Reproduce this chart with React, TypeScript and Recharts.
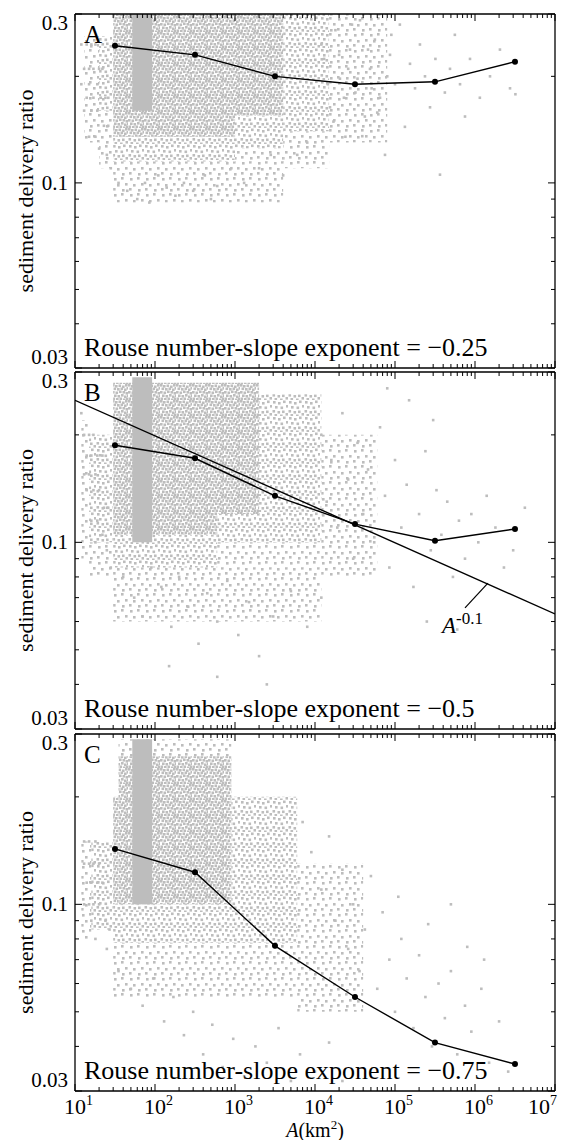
import React from "react";
import { ScatterChart, Scatter, XAxis, YAxis, ReferenceArea, ReferenceLine } from "recharts";

const FONT = "Liberation Serif, Times New Roman, serif";
const GRAY = "#bdbdbd";
const PAGE_H = 1140;

// axis ticks
const decades = [10, 100, 1000, 10000, 100000, 1000000, 10000000];
const decadeExp = ["1", "2", "3", "4", "5", "6", "7"];
const minorMult = [2, 3, 4, 5, 6, 7, 8, 9];
const yTicks = [0.03, 0.04, 0.05, 0.06, 0.07, 0.08, 0.09, 0.1, 0.2, 0.3];
const yMajor = [0.03, 0.1, 0.3];
const yLabels = ["0.03", "0.1", "0.3"];

// binned means (black line), x = bin centre area km2
const binAreas = [31.6, 316, 3160, 31600, 316000, 3160000];
const lineA = [0.244, 0.23, 0.2, 0.19, 0.193, 0.22];
const lineB = [0.187, 0.172, 0.135, 0.1125, 0.101, 0.109];
const lineC = [0.143, 0.123, 0.0765, 0.055, 0.041, 0.0357];

// A^-0.1 reference line in panel B
const powerLaw: [number, number][] = [[10, 0.25], [1e7, 0.063]];
const powerLeader: [number, number][] = [[7.5e5, 0.0655], [1.45e6, 0.0769]];

// point cloud: saturated column, dense / medium / light areas [a1, a2, s1, s2]
const solidA = [[52, 92, 0.16, 0.3]];
const denseA = [[30, 4000, 0.155, 0.3], [30, 1000, 0.135, 0.155]];
const mediumA = [[4000, 15000, 0.14, 0.3], [20, 30, 0.16, 0.26], [30, 1000, 0.115, 0.135], [1000, 4000, 0.125, 0.155]];
const lightA = [[13, 20, 0.13, 0.26], [20, 30, 0.11, 0.16], [30, 4000, 0.088, 0.115], [1000, 4000, 0.115, 0.125],
  [4000, 15000, 0.11, 0.14], [15000, 80000, 0.13, 0.3]];

const solidB = [[52, 92, 0.1, 0.29]];
const denseB = [[30, 2000, 0.12, 0.28], [30, 600, 0.105, 0.12]];
const mediumB = [[2000, 12000, 0.1, 0.26], [600, 2000, 0.1, 0.12], [30, 600, 0.085, 0.105], [15, 30, 0.1, 0.2]];
const lightB = [[12, 15, 0.09, 0.22], [15, 30, 0.08, 0.1], [30, 12000, 0.06, 0.085], [600, 12000, 0.085, 0.1],
  [12000, 60000, 0.08, 0.2]];

const solidC = [[52, 92, 0.1, 0.29]];
const denseC = [[35, 900, 0.1, 0.26], [30, 35, 0.1, 0.2]];
const mediumC = [[900, 6000, 0.078, 0.2], [30, 900, 0.078, 0.1], [16, 30, 0.085, 0.15]];
const lightC = [[12, 16, 0.08, 0.15], [30, 6000, 0.055, 0.078], [6000, 40000, 0.05, 0.13], [35, 900, 0.26, 0.29]];

// scattered individual basins [A km2, ratio]
const sparseA: [number, number][] = [
  [1.3e4, 0.224], [1.54e4, 0.1635], [1.8e4, 0.27], [2.05e4, 0.197], [2.4e4, 0.135], [2.74e4, 0.238],
  [3.2e4, 0.18], [3.65e4, 0.288], [4.2e4, 0.154], [4.87e4, 0.21], [5.6e4, 0.254], [6.5e4, 0.174],
  [7.5e4, 0.12], [8.66e4, 0.23], [1e5, 0.19], [1.15e5, 0.28], [1.33e5, 0.144], [1.54e5, 0.217],
  [1.78e5, 0.185], [2.05e5, 0.246], [2.37e5, 0.2], [2.74e5, 0.1635], [3.2e5, 0.224], [3.65e5, 0.1055],
  [4.2e5, 0.18], [4.87e5, 0.21], [5.6e5, 0.262], [6.5e5, 0.19], [7.5e5, 0.154], [8.66e5, 0.224],
  [1.15e6, 0.174], [1.54e6, 0.2], [2.05e6, 0.238], [2.74e6, 0.185], [3.2e6, 0.178],
  [1.2e4, 0.246], [1.45e4, 0.19], [1.7e4, 0.149], [2e4, 0.23], [2.3e4, 0.174], [2.6e4, 0.21],
  [2.9e4, 0.28], [3.4e4, 0.197], [3.9e4, 0.1355], [4.6e4, 0.238], [5.1e4, 0.185], [6e4, 0.158],
  [8e4, 0.2], [9e4, 0.262],
  [12, 0.246], [14, 0.246], [16, 0.246], [18, 0.246], [13, 0.21], [15, 0.21], [17, 0.21], [20, 0.21],
  [22, 0.21], [12, 0.19], [15, 0.19], [19, 0.19], [14, 0.174], [17, 0.174], [21, 0.174], [24, 0.174],
  [13, 0.16], [16, 0.16], [19, 0.16], [23, 0.145], [26, 0.145], [15, 0.135], [18, 0.135], [25, 0.12],
  [28, 0.11], [20, 0.125],
  [35, 0.1], [45, 0.095], [60, 0.09], [75, 0.1], [85, 0.088], [110, 0.105], [140, 0.097], [180, 0.092],
  [230, 0.1], [300, 0.095], [420, 0.105], [600, 0.098], [900, 0.11], [1300, 0.1], [2000, 0.11],
  [2800, 0.12], [4000, 0.105], [6000, 0.12], [8000, 0.13], [500, 0.09],
];

const sparseB: [number, number][] = [
  [1.2e4, 0.2], [1.4e4, 0.13], [1.6e4, 0.17], [1.9e4, 0.11], [2.2e4, 0.23], [2.6e4, 0.15], [3e4, 0.09],
  [3.4e4, 0.19], [4e4, 0.12], [4.6e4, 0.16], [5.5e4, 0.1], [6.5e4, 0.21], [7.5e4, 0.135], [8.5e4, 0.085],
  [1e5, 0.17], [1.2e5, 0.11], [1.4e5, 0.145], [1.7e5, 0.075], [2e5, 0.12], [2.4e5, 0.18], [2.8e5, 0.095],
  [3.3e5, 0.14], [3.8e5, 0.105], [4.5e5, 0.13], [5.3e5, 0.08], [6.3e5, 0.115], [7.5e5, 0.09], [9e5, 0.12],
  [1.1e6, 0.1], [1.4e6, 0.135], [1.8e6, 0.11], [2.3e6, 0.085], [3e6, 0.095], [4.2e6, 0.125], [2.5e5, 0.06],
  [6e5, 0.057], [1.5e5, 0.25], [3e5, 0.22], [8e4, 0.27],
  [40, 0.08], [55, 0.07], [70, 0.062], [90, 0.085], [120, 0.075], [160, 0.058], [200, 0.08], [260, 0.066],
  [350, 0.052], [450, 0.072], [600, 0.06], [800, 0.078], [1100, 0.055], [1500, 0.068], [2000, 0.048],
  [3000, 0.062], [5000, 0.073], [8000, 0.058], [1.2e4, 0.07], [600, 0.042], [150, 0.045], [2500, 0.04],
  [13, 0.2], [15, 0.2], [17, 0.2], [14, 0.175], [16, 0.175], [19, 0.175], [22, 0.175], [13, 0.155],
  [15, 0.155], [18, 0.155], [14, 0.14], [17, 0.14], [20, 0.14], [23, 0.125], [26, 0.125], [16, 0.115],
  [19, 0.115], [22, 0.105], [25, 0.095], [18, 0.1], [28, 0.085], [12, 0.23],
];

const sparseC: [number, number][] = [
  [7000, 0.17], [9000, 0.14], [1.2e4, 0.11], [1.5e4, 0.155], [1.8e4, 0.09], [2.2e4, 0.125], [2.6e4, 0.075],
  [3e4, 0.1], [3.6e4, 0.065], [4.2e4, 0.085], [5e4, 0.12], [6e4, 0.058], [7e4, 0.095], [8.5e4, 0.07],
  [1e5, 0.05], [1.2e5, 0.08], [1.4e5, 0.062], [1.7e5, 0.045], [2e5, 0.072], [2.4e5, 0.055], [2.9e5, 0.04],
  [3.5e5, 0.06], [4.2e5, 0.048], [5e5, 0.065], [6e5, 0.038], [7.5e5, 0.052], [9e5, 0.044], [1.2e6, 0.058],
  [1.5e6, 0.036], [2e6, 0.047], [2.6e6, 0.034], [1.1e5, 0.105], [2.6e5, 0.088], [5e5, 0.1], [8e5, 0.076],
  [1.3e6, 0.07],
  [35, 0.065], [50, 0.058], [70, 0.052], [95, 0.062], [130, 0.047], [170, 0.055], [230, 0.043], [300, 0.05],
  [400, 0.038], [520, 0.046], [700, 0.035], [950, 0.042], [1300, 0.033], [1800, 0.04], [2500, 0.036],
  [3500, 0.045], [5000, 0.032], [6500, 0.038], [1e4, 0.034], [1.5e4, 0.041], [2.2e4, 0.032],
  [13, 0.15], [15, 0.15], [18, 0.15], [13, 0.13], [15, 0.13], [17, 0.13], [20, 0.13], [14, 0.115],
  [16, 0.115], [19, 0.115], [22, 0.115], [13, 0.1], [15, 0.1], [17, 0.1], [20, 0.1], [24, 0.09],
  [27, 0.085], [16, 0.09], [18, 0.08], [25, 0.075],
];

const xTicks = decades.concat(decades.slice(0, -1).flatMap((d) => minorMult.map((m) => d * m)));

const axisLine = { stroke: "#000", strokeWidth: 1.3 };

const xTick = (side: "top" | "bottom", labels: boolean) => (p: any) => {
  const { x, y, payload } = p;
  const i = decades.indexOf(payload.value);
  const len = i >= 0 ? 7 : 4;
  const dir = side === "top" ? 1 : -1;
  const shift = i === decades.length - 1 ? 27 : 11;
  return (
    <g>
      <line x1={x} x2={x} y1={y} y2={y + dir * len} stroke="#000" strokeWidth={1} />
      {labels && i >= 0 && (
        <text x={x - shift} y={y + 23} fontSize={22} fontFamily={FONT} fill="#000">
          10<tspan dy={-9} fontSize={14}>{decadeExp[i]}</tspan>
        </text>
      )}
    </g>
  );
};

const yTick = (side: "left" | "right") => (p: any) => {
  const { x, y, payload } = p;
  const v = payload.value;
  const i = yMajor.indexOf(v);
  const len = i >= 0 ? 7 : 4;
  const dir = side === "left" ? 1 : -1;
  const dy = v === 0.3 ? 16 : v === 0.03 ? -4 : 7;
  return (
    <g>
      <line x1={x} x2={x + dir * len} y1={y} y2={y} stroke="#000" strokeWidth={1} />
      {side === "left" && i >= 0 && (
        <text x={x - 7} y={y + dy} textAnchor="end" fontSize={21} fontFamily={FONT} fill="#000">
          {yLabels[i]}
        </text>
      )}
    </g>
  );
};

const dot = (p: any) => <rect x={p.cx - 1.3} y={p.cy - 1.3} width={2.6} height={2.6} fill={GRAY} />;
const meanDot = (p: any) => <circle cx={p.cx} cy={p.cy} r={3} fill="#000" />;
const noDot = () => <g />;

type PanelProps = {
  plotTop: number;
  plotBottom: number;
  labels: boolean;
  means: number[];
  sparse: [number, number][];
  solid: number[][];
  dense: number[][];
  medium: number[][];
  light: number[][];
  power?: boolean;
};

function areas(list: number[][], fill: string, key: string) {
  return list.map((r, i) => (
    <ReferenceArea
      key={key + i}
      xAxisId="b"
      yAxisId="l"
      x1={r[0]}
      x2={r[1]}
      y1={r[2]}
      y2={r[3]}
      fill={fill}
      fillOpacity={1}
      stroke="none"
      ifOverflow="hidden"
    />
  ));
}

// each panel is a full-page transparent chart so nothing gets clipped
function Panel(p: PanelProps) {
  const meanData = binAreas.map((a, i) => ({ a, s: p.means[i] }));
  const cloud = p.sparse.map(([a, s]) => ({ a, s }));
  return (
    <div style={{ position: "absolute", left: 0, top: 0, width: 563, height: PAGE_H }}>
      <ScatterChart width={563} height={PAGE_H} margin={{ top: 0, right: 0, bottom: 0, left: 0 }}>
        <XAxis xAxisId="b" orientation="bottom" type="number" dataKey="a" scale="log" domain={[10, 1e7]}
          allowDataOverflow ticks={xTicks} interval={0} height={PAGE_H - p.plotBottom} tickSize={0} tickMargin={0}
          tickLine={false} axisLine={axisLine} tick={xTick("bottom", p.labels)} />
        <XAxis xAxisId="t" orientation="top" type="number" dataKey="a" scale="log" domain={[10, 1e7]}
          allowDataOverflow ticks={xTicks} interval={0} height={p.plotTop} tickSize={0} tickMargin={0}
          tickLine={false} axisLine={axisLine} tick={xTick("top", false)} />
        <YAxis yAxisId="l" orientation="left" type="number" dataKey="s" scale="log" domain={[0.03, 0.3]}
          allowDataOverflow ticks={yTicks} interval={0} width={75} tickSize={0} tickMargin={0}
          tickLine={false} axisLine={axisLine} tick={yTick("left")} />
        <YAxis yAxisId="r" orientation="right" type="number" dataKey="s" scale="log" domain={[0.03, 0.3]}
          allowDataOverflow ticks={yTicks} interval={0} width={8} tickSize={0} tickMargin={0}
          tickLine={false} axisLine={axisLine} tick={yTick("right")} />
        {areas(p.light, "url(#cloudLight)", "lt")}
        {areas(p.medium, "url(#cloudMedium)", "md")}
        {areas(p.dense, "url(#cloudDense)", "dn")}
        {areas(p.solid, GRAY, "sd")}
        <Scatter xAxisId="b" yAxisId="l" data={cloud} shape={dot} isAnimationActive={false} />
        {p.power && (
          <Scatter xAxisId="b" yAxisId="l" data={powerLaw.map(([a, s]) => ({ a, s }))} shape={noDot}
            line={{ stroke: "#000", strokeWidth: 1.4 }} isAnimationActive={false} />
        )}
        {p.power && (
          <ReferenceLine xAxisId="b" yAxisId="l" stroke="#000" strokeWidth={1.2}
            segment={powerLeader.map(([a, s]) => ({ x: a, y: s }))} />
        )}
        <Scatter xAxisId="b" yAxisId="l" data={meanData} shape={meanDot}
          line={{ stroke: "#000", strokeWidth: 1.4 }} isAnimationActive={false} />
      </ScatterChart>
    </div>
  );
}

const panelLetters = ["A", "B", "C"];
const exponents = ["−0.25", "−0.5", "−0.75"];
const plotTops = [14, 372, 734];
const plotBottoms = [368, 729, 1091];

// texture tiles for the dense point cloud
const tileDense = [[0, 0], [3, 1], [6.5, 0.5], [10, 1.5], [13, 0], [1.5, 3.5], [5, 4], [8.5, 3.5], [12, 4.5],
  [14.5, 3], [0, 7], [3.5, 7.5], [7, 6.5], [10.5, 7], [13.5, 8], [2, 10.5], [5.5, 11], [9, 10], [12, 11.5],
  [15, 10.5], [0.5, 13.5], [4, 14], [7.5, 13.5], [11, 14.5], [14, 13.5]];
const tileMedium = [[1, 1], [6, 2], [11, 0.5], [14, 5], [3, 6], [8.5, 6.5], [0.5, 10], [5.5, 11], [10, 10.5],
  [13.5, 13], [2.5, 14], [8, 14.5]];
const tileLight = [[2, 2], [9, 1], [13, 7], [5, 8], [1, 12], [10, 13]];

function tile(id: string, pts: number[][]) {
  return (
    <pattern id={id} width={16} height={16} patternUnits="userSpaceOnUse">
      {pts.map(([x, y], i) => (
        <rect key={i} x={x} y={y} width={2.6} height={2.6} fill={GRAY} />
      ))}
    </pattern>
  );
}

export default function App() {
  return (
    <div style={{ position: "absolute", left: 0, top: 0, width: 563, height: PAGE_H, background: "#fff" }}>
      <svg width={0} height={0} style={{ position: "absolute" }}>
        <defs>
          {tile("cloudDense", tileDense)}
          {tile("cloudMedium", tileMedium)}
          {tile("cloudLight", tileLight)}
        </defs>
      </svg>
      <Panel plotTop={plotTops[0]} plotBottom={plotBottoms[0]} labels={false} means={lineA} sparse={sparseA}
        solid={solidA} dense={denseA} medium={mediumA} light={lightA} />
      <Panel plotTop={plotTops[1]} plotBottom={plotBottoms[1]} labels={false} means={lineB} sparse={sparseB}
        solid={solidB} dense={denseB} medium={mediumB} light={lightB} power />
      <Panel plotTop={plotTops[2]} plotBottom={plotBottoms[2]} labels means={lineC} sparse={sparseC}
        solid={solidC} dense={denseC} medium={mediumC} light={lightC} />
      <svg width={563} height={PAGE_H} style={{ position: "absolute", left: 0, top: 0, pointerEvents: "none" }}
        fontFamily={FONT} fill="#000">
        {panelLetters.map((l, i) => (
          <text key={l} x={84} y={plotTops[i] + 29} fontSize={25}>{l}</text>
        ))}
        {exponents.map((e, i) => (
          <text key={e} x={84} y={plotBottoms[i] - 12} fontSize={26}>
            Rouse number-slope exponent = {e}
          </text>
        ))}
        {plotTops.map((t, i) => {
          const cy = (t + plotBottoms[i]) / 2;
          return (
            <text key={"yl" + i} x={33} y={cy} fontSize={22} textAnchor="middle" transform={`rotate(-90, 33, ${cy})`}>
              sediment delivery ratio
            </text>
          );
        })}
        <text x={442} y={633} fontSize={23}>
          <tspan fontStyle="italic">A</tspan>
          <tspan dy={-9} fontSize={17}>-0.1</tspan>
        </text>
        <text x={315} y={1137} fontSize={20} textAnchor="middle">
          <tspan fontStyle="italic">A</tspan>(km<tspan dy={-8} fontSize={13}>2</tspan><tspan dy={8}>)</tspan>
        </text>
      </svg>
    </div>
  );
}
